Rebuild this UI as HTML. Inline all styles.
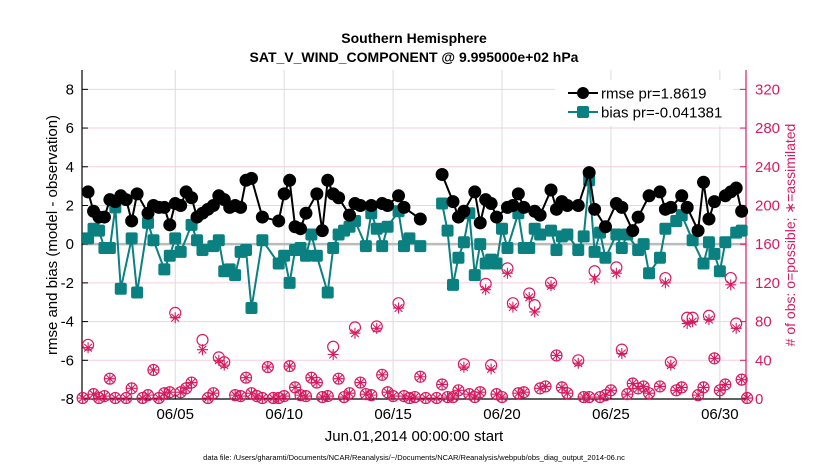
<!DOCTYPE html>
<html><head><meta charset="utf-8"><style>
body{margin:0;background:#fff;}
svg{display:block;font-family:"Liberation Sans",Arial,sans-serif;}
</style></head><body>
<svg id="chart" width="830" height="470" viewBox="0 0 830 470" xmlns="http://www.w3.org/2000/svg">
<rect width="830" height="470" fill="#fff"/>
<g id="grid"></g>
<g id="axes"></g>
<g id="counts"></g>
<g id="series"></g>
<text x="414" y="43" text-anchor="middle" font-size="14" font-weight="bold">Southern Hemisphere</text>
<text x="414" y="62" text-anchor="middle" font-size="14" font-weight="bold">SAT_V_WIND_COMPONENT @ 9.995000e+02 hPa</text>
<text x="414" y="441" text-anchor="middle" font-size="15">Jun.01,2014 00:00:00 start</text>
<text transform="translate(57,235) rotate(-90)" text-anchor="middle" font-size="15">rmse and bias (model - observation)</text>
<text transform="translate(795,235) rotate(-90)" text-anchor="middle" font-size="14" fill="#d81b60"># of obs: o=possible; ∗=assimilated</text>
<text x="414" y="460" text-anchor="middle" font-size="7.5">data file: /Users/gharamti/Documents/NCAR/Reanalysis/~/Documents/NCAR/Reanalysis/webpub/obs_diag_output_2014-06.nc</text>
<g id="legend">
<rect x="555" y="80" width="178" height="46" fill="#fff"/>
<g>
<line x1="568" y1="93" x2="598" y2="93" stroke="#000" stroke-width="2"/>
<circle cx="583" cy="93" r="6" fill="#000"/>
<text x="601" y="98.5" font-size="15">rmse pr=1.8619</text></g>
<g>
<line x1="568" y1="112" x2="598" y2="112" stroke="#0a8080" stroke-width="2"/>
<rect x="577" y="106" width="12" height="12" rx="2" fill="#0a8080"/>
<text x="601" y="117.5" font-size="15">bias pr=-0.041381</text></g>
</g>
</svg>
<script>
// rmse: 6-hourly index (0 = Jun 1 00Z) and value
const rmseIdx=[0,1,2,3,4,5,6,7,8,9,11,12,13,14,15,16,17,18,19,20,21,22,23,24,25,26,27,28,29,30,32,35,36,37,38,39,40,42,43,44,45,46,48,49,50,52,54,55,57,58,61,65,67,68,69,71,72,73,74,75,77,78,79,80,82,83,85,86,87,88,90,92,93,95,97,98,100,101,103,105,106,107,109,110,112,113,114,115,117,118,119,120];
const rmseVal=[2.7,1.7,1.4,1.4,2.3,2.2,2.5,2.3,1.2,2.6,1.6,2.0,1.9,1.9,1.0,2.1,2.0,2.7,2.4,1.4,1.6,1.8,2.0,2.5,2.3,1.9,2.0,1.9,3.3,3.4,1.4,1.2,2.6,3.3,0.9,0.8,1.6,2.6,0.7,3.3,2.6,2.4,1.5,2.1,2.0,2.0,2.1,2.0,2.5,1.9,1.3,3.6,2.2,1.4,1.7,2.7,1.1,2.3,2.1,1.4,1.9,2.0,2.6,1.9,1.7,1.5,2.8,1.8,2.2,2.0,2.0,3.7,1.8,0.9,2.1,1.9,0.7,1.4,2.5,2.7,1.8,1.9,2.5,1.9,0.7,3.2,1.3,2.2,2.5,2.7,2.9,1.7];
const biasIdx=[0,1,2,3,4,5,6,8,9,11,12,14,15,16,17,19,20,21,23,24,25,26,27,28,29,30,32,35,36,37,38,39,40,41,42,44,45,46,47,48,49,51,52,53,54,55,57,58,59,61,65,66,67,68,69,70,71,72,73,74,75,76,77,79,80,81,82,83,85,86,87,88,90,91,92,93,94,95,97,98,99,101,102,103,105,106,108,109,111,113,114,115,116,117,119,120];
const biasVal=[0.3,0.8,0.7,-0.2,-0.2,1.9,-2.3,0.3,-2.5,1.1,0.2,-1.3,-0.6,0.3,-0.4,1.0,0.2,-0.3,-0.1,0.2,-1.4,-1.3,-1.6,-0.4,-0.3,-3.3,0.2,-1.0,-0.6,-2.0,-0.3,-0.2,-0.6,0.5,-0.6,-2.5,-0.2,0.5,0.7,0.9,1.2,-0.1,1.6,0.8,-0.1,0.9,1.7,-0.1,0.3,-0.1,2.1,0.7,-2.1,-0.7,0.1,1.6,-1.6,0.0,-1.0,-0.8,-1.0,0.8,-0.2,1.6,-0.2,-0.2,0.8,0.5,0.7,-0.3,0.4,0.5,-0.3,0.4,3.3,-0.4,0.6,-0.7,0.5,-0.2,0.5,-0.3,0.0,-1.5,-0.7,0.8,1.2,1.5,0.2,-1.0,0.1,-0.5,-1.4,0.1,0.6,0.7];
// observation counts
const cntIdx=[-1,0,1,2,3,4,5,7,8,10,11,12,13,14,15,16,17,18,19,21,22,23,24,25,27,28,29,30,31,32,33,34,35,36,37,38,39,40,41,42,43,44,45,46,47,48,49,50,51,52,53,54,55,56,57,58,59,60,61,62,64,65,66,67,68,69,70,71,72,73,74,75,76,77,78,79,80,81,82,83,84,85,86,87,88,90,91,92,93,94,95,96,97,98,99,100,101,102,103,105,106,107,108,109,110,111,112,113,114,115,116,117,118,119,120,121];
const possible=[1,56,5,1,3,21,1,1,11,1,4,30,1,6,7,89,7,11,17,61,1,6,43,38,4,3,22,6,3,1,33,1,1,3,34,12,4,3,22,17,2,3,54,21,2,6,74,17,5,4,75,25,7,3,99,3,1,2,23,1,1,15,2,2,9,36,5,2,7,119,35,5,2,135,99,6,7,109,97,11,13,120,45,12,6,40,2,2,132,2,4,9,136,51,5,16,11,13,6,13,125,38,9,12,84,84,4,12,86,42,9,15,125,78,20,1];
const assimilated=[1,53,5,1,3,21,1,1,11,1,4,30,1,6,7,84,7,11,17,51,1,6,40,35,4,3,22,6,3,1,33,1,1,3,34,12,4,3,22,17,2,3,46,21,2,6,68,17,5,4,73,25,7,3,94,3,1,2,23,1,1,15,2,2,9,33,5,2,7,113,31,5,2,130,95,6,7,105,90,11,13,117,45,12,6,37,2,2,124,2,4,9,130,47,5,16,11,13,6,13,120,35,9,12,78,80,4,12,82,42,9,15,118,73,20,1];
const xTicks=[5,10,15,20,25,30];
const xTickLabels=["06/05","06/10","06/15","06/20","06/25","06/30"];
const yTicks=[-8,-6,-4,-2,0,2,4,6,8];
const rTicks=[0,40,80,120,160,200,240,280,320];

const NS="http://www.w3.org/2000/svg";
const L=82,R=746,T=70,B=399;
const dayMin=0.72,dayMax=31.2,yMin=-8,yMax=9,rMax=340;
function xScale(day){return L+(day-dayMin)/(dayMax-dayMin)*(R-L);}
function xIdx(i){return xScale(1+i/4);}
function yScale(v){return B-(v-yMin)/(yMax-yMin)*(B-T);}
function rScale(c){return B-c/rMax*(B-T);}
function mk(tag,attrs,parent){const e=document.createElementNS(NS,tag);for(const k in attrs)e.setAttribute(k,attrs[k]);parent.appendChild(e);return e;}
const grid=document.getElementById('grid'),axes=document.getElementById('axes'),series=document.getElementById('series'),counts=document.getElementById('counts');
const MAG="#d81b60",TEAL="#0a8080";
mk('rect',{x:L,y:T,width:R-L,height:B-T,fill:'#fff'},grid);
yTicks.forEach(v=>{const y=yScale(v);
  const g=mk('line',{x1:L,x2:R,y1:y,y2:y,stroke:'#f7cfe0','stroke-width':1},grid);
  
  
  mk('line',{x1:L,x2:L+6,y1:y,y2:y,stroke:'#000'},axes);
  const t=mk('text',{x:L-8,y:y+5,'text-anchor':'end','font-size':15},axes);t.textContent=v;
  
  
});
xTicks.forEach((d,k)=>{const x=xScale(d);
  const g=mk('line',{x1:x,x2:x,y1:T,y2:B,stroke:'#dcdcdc','stroke-width':1},grid);
  
  
  mk('line',{x1:x,x2:x,y1:B,y2:B-6,stroke:'#000'},axes);
  const t=mk('text',{x:x,y:B+20,'text-anchor':'middle','font-size':15},axes);t.textContent=xTickLabels[k];
  
  
});
rTicks.forEach(c=>{const y=rScale(c);
  mk('line',{x1:R,x2:R-6,y1:y,y2:y,stroke:MAG},axes);
  const t=mk('text',{x:R+9,y:y+5,'font-size':15,fill:MAG},axes);t.textContent=c;
  
  
});
const zl=mk('line',{x1:L,x2:R,y1:yScale(0),y2:yScale(0),stroke:'#bbb','stroke-width':2.5},grid);


mk('line',{x1:L,x2:L,y1:T,y2:B,stroke:'#000','stroke-width':1.2},axes);
mk('line',{x1:L,x2:R,y1:B,y2:B,stroke:'#000','stroke-width':1.2},axes);
mk('line',{x1:R,x2:R,y1:T,y2:B,stroke:MAG,'stroke-width':1.2},axes);

// counts
cntIdx.forEach((i,k)=>{const x=xIdx(i);
  const c=mk('circle',{cx:x,cy:rScale(possible[k]),r:5.5,fill:'none',stroke:MAG,'stroke-width':1.2},counts);
  
  
  const y=rScale(assimilated[k]),s=5.5;
  const a=mk('path',{d:`M${x-s},${y}H${x+s}M${x},${y-s}V${y+s}M${x-s*0.7},${y-s*0.7}L${x+s*0.7},${y+s*0.7}M${x-s*0.7},${y+s*0.7}L${x+s*0.7},${y-s*0.7}`,stroke:MAG,'stroke-width':1.1,fill:'none'},counts);
  
  
});
function linePath(idx,val){let d='';for(let k=0;k<idx.length;k++){const x=xIdx(idx[k]),y=yScale(val[k]);d+=(k===0||idx[k]-idx[k-1]>3?'M':'L')+x.toFixed(1)+','+y.toFixed(1);}return d;}
const bl=mk('path',{d:linePath(biasIdx,biasVal),stroke:TEAL,'stroke-width':2,fill:'none'},series);


biasIdx.forEach((i,k)=>{const s=mk('rect',{x:xIdx(i)-6,y:yScale(biasVal[k])-6,width:12,height:12,rx:2,fill:TEAL},series);
  
  });
const rl=mk('path',{d:linePath(rmseIdx,rmseVal),stroke:'#000','stroke-width':2,fill:'none'},series);


rmseIdx.forEach((i,k)=>{const c=mk('circle',{cx:xIdx(i),cy:yScale(rmseVal[k]),r:6.5,fill:'#000'},series);
  
  });
</script>
</body></html>
